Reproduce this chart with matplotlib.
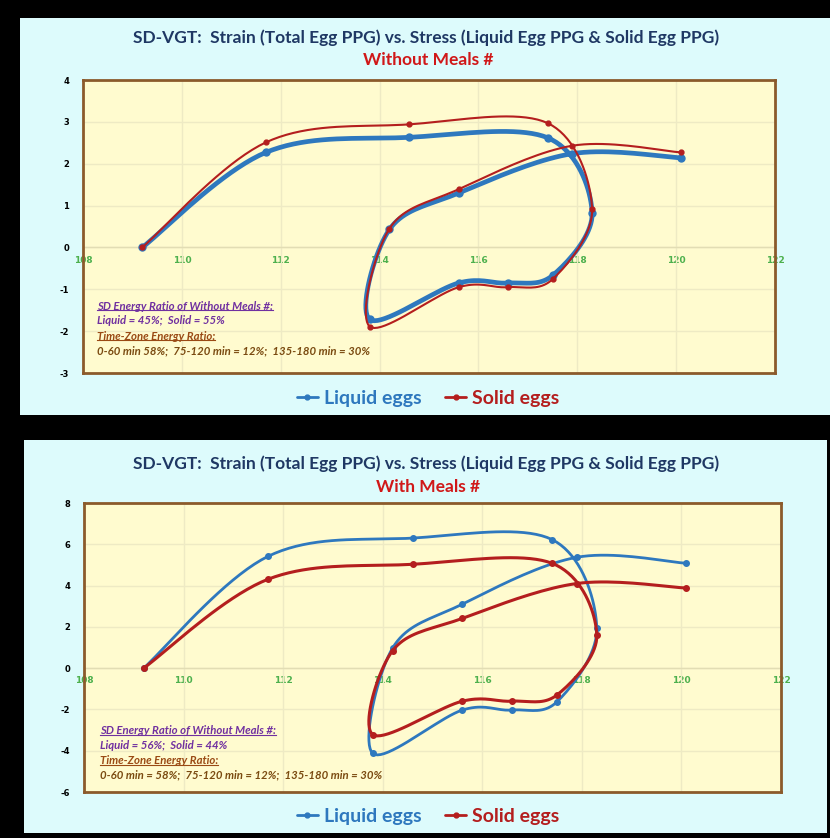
import numpy as np
import matplotlib.pyplot as plt
from matplotlib.patches import Rectangle
from matplotlib.lines import Line2D

plt.rcParams['axes.unicode_minus'] = False

# Total egg PPG (shared x for both charts), 13 readings
total_ppg = [109.2, 111.7, 114.6, 117.4, 118.3, 117.5, 116.6, 115.6, 113.8, 114.2, 115.6, 117.9, 120.1]

# Without meals
liquid_wo = [0.0, 2.27, 2.63, 2.62, 0.82, -0.67, -0.85, -0.85, -1.72, 0.43, 1.30, 2.24, 2.14]
solid_wo = [0.0, 2.51, 2.94, 2.97, 0.91, -0.76, -0.95, -0.95, -1.89, 0.45, 1.39, 2.43, 2.27]

# With meals
liquid_w = [0.0, 5.42, 6.30, 6.23, 1.94, -1.63, -2.03, -2.03, -4.13, 0.98, 3.10, 5.37, 5.08]
solid_w = [0.0, 4.31, 5.03, 5.08, 1.60, -1.30, -1.60, -1.60, -3.22, 0.85, 2.41, 4.10, 3.88]

xticks = [108, 110, 112, 114, 116, 118, 120, 122]
title = "SD-VGT:  Strain (Total Egg PPG) vs. Stress (Liquid Egg PPG & Solid Egg PPG)"

notes_wo = ["SD Energy Ratio of Without Meals #:",
            "Liquid = 45%;  Solid = 55%",
            "Time-Zone Energy Ratio:",
            "0-60 min 58%;  75-120 min = 12%;  135-180 min = 30%"]
notes_w = ["SD Energy Ratio of Without Meals #:",
           "Liquid = 56%;  Solid = 44%",
           "Time-Zone Energy Ratio:",
           "0-60 min = 58%;  75-120 min = 12%;  135-180 min = 30%"]

BLUE = '#2E78BE'
RED = '#B41E1E'
CYAN = '#DDFBFC'
PLOT_BG = '#FFFBCF'
BORDER = '#8B5A2B'
GRID = '#EEEAC4'
NAVY = '#1F3864'
TITLE_RED = '#D01818'
TICK_GREEN = '#4DB04D'
NOTE_COLORS = ['#7030A0', '#7030A0', '#9A4A14', '#7A4A10']

N = 20  # samples per segment


def smooth(xs, ys):
    # Catmull-Rom spline, like Excel's smoothed lines
    pts = np.column_stack([xs, ys]).astype(float)
    p = np.vstack([pts[0], pts, pts[-1]])
    t = np.linspace(0, 1, N, endpoint=False)[:, None]
    segs = []
    for i in range(1, len(p) - 2):
        p0, p1, p2, p3 = p[i - 1], p[i], p[i + 1], p[i + 2]
        segs.append(0.5 * (2 * p1 + (p2 - p0) * t
                           + (2 * p0 - 5 * p1 + 4 * p2 - p3) * t ** 2
                           + (3 * p1 - p0 - 3 * p2 + p3) * t ** 3))
    segs.append(pts[-1:])
    out = np.vstack(segs)
    return out[:, 0], out[:, 1]


fig = plt.figure(figsize=(8.3, 8.38), dpi=100, facecolor='black')
W, H = 830.0, 838.0


def fx(px):
    return px / W


def fy(py):
    return 1 - py / H


# cyan panels
fig.add_artist(Rectangle((fx(20), fy(415)), 810 / W, 397 / H, transform=fig.transFigure,
                         facecolor=CYAN, edgecolor='none', zorder=0))
fig.add_artist(Rectangle((fx(24), fy(833)), 803 / W, 393 / H, transform=fig.transFigure,
                         facecolor=CYAN, edgecolor='none', zorder=0))

underlined = []


def draw_chart(box, ylim, yticks, liquid, solid, subtitle, notes, lws, mss,
               title_y, sub_y, legend_y, notes_y):
    left, top, right, bottom = box
    ax = fig.add_axes([fx(left), fy(bottom), (right - left) / W, (bottom - top) / H])
    ax.set_facecolor(PLOT_BG)
    for s in ax.spines.values():
        s.set_color(BORDER)
        s.set_linewidth(2.0)
    ax.set_xlim(108, 122)
    ax.set_ylim(*ylim)
    ax.set_xticks(xticks)
    ax.set_yticks(yticks)
    ax.grid(True, color=GRID, linewidth=1.0)
    ax.set_axisbelow(True)
    ax.tick_params(axis='x', length=0, labelbottom=False)
    ax.tick_params(axis='y', length=0, pad=10)
    for lab in ax.get_yticklabels():
        lab.set_fontsize(6)
        lab.set_fontweight('bold')
    ax.axhline(0, color='#E2DDB4', linewidth=1.0, zorder=1)

    sec = ax.secondary_xaxis(0, transform=ax.transData)
    sec.set_xticks(xticks)
    sec.spines['bottom'].set_visible(False)
    sec.tick_params(axis='x', length=0, pad=6, colors=TICK_GREEN, labelsize=6.5)
    for lab in sec.get_xticklabels():
        lab.set_fontweight('bold')

    every = list(range(0, N * (len(total_ppg) - 1) + 1, N))
    xs, ys = smooth(total_ppg, liquid)
    l1, = ax.plot(xs, ys, color=BLUE, lw=lws[0], marker='o', ms=mss[0],
                  markevery=every, solid_capstyle='round', zorder=3, label='Liquid eggs')
    xs, ys = smooth(total_ppg, solid)
    l2, = ax.plot(xs, ys, color=RED, lw=lws[1], marker='o', ms=mss[1],
                  markevery=every, solid_capstyle='round', zorder=4, label='Solid eggs')

    fig.text(fx(426), fy(title_y), title, ha='center', va='center', color=NAVY,
             fontsize=12.5, fontweight='bold', family='Lato')
    fig.text(fx(428), fy(sub_y), subtitle, ha='center', va='center', color=TITLE_RED,
             fontsize=12.5, fontweight='bold', family='Lato')

    for i, line in enumerate(notes):
        t = fig.text(fx(notes_y[0]), fy(notes_y[1] + i * 15), line, ha='left', va='center',
                     color=NOTE_COLORS[i], fontsize=8.2, fontweight='bold',
                     style='italic', family='Lato')
        if i in (0, 2):
            underlined.append(t)

    leg = fig.legend(handles=[l1, l2], loc='center', bbox_to_anchor=(fx(428), fy(legend_y)),
                     ncol=2, frameon=False, handlelength=1.1, handletextpad=0.3,
                     columnspacing=1.2, prop={'family': 'Lato', 'weight': 'bold', 'size': 14})
    for txt, c in zip(leg.get_texts(), [BLUE, RED]):
        txt.set_color(c)
    for h in leg.legend_handles:
        h.set_linewidth(2.0)
        h.set_markersize(3.5)
    return ax


draw_chart((83, 80, 775, 373), (-3, 4), range(-3, 5), liquid_wo, solid_wo,
           "Without Meals #", notes_wo, (3.4, 1.5), (5.0, 3.5),
           38, 60, 398, (97, 306))
draw_chart((84, 503, 781, 792), (-6, 8), range(-6, 9, 2), liquid_w, solid_w,
           "With Meals #", notes_w, (2.0, 2.2), (4.0, 4.0),
           464, 487, 816, (100, 730))

# underline the note headings
fig.canvas.draw()
renderer = fig.canvas.get_renderer()
for t in underlined:
    bb = t.get_window_extent(renderer)
    yl = bb.y0 + 1
    fig.add_artist(Line2D([bb.x0 / W, bb.x1 / W], [yl / H, yl / H], transform=fig.transFigure,
                          color=t.get_color(), lw=0.8))

fig.savefig('out.png', dpi=100, facecolor=fig.get_facecolor())
